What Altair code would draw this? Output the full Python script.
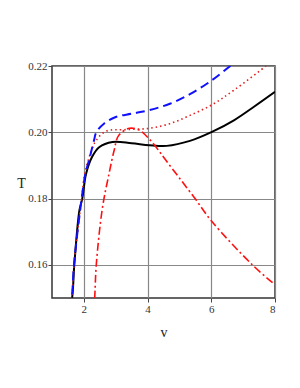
import altair as alt
import pandas as pd

# black solid
v_black = [1.55, 1.63, 1.70, 1.86, 1.95, 2.07, 2.26, 2.48, 2.9, 3.5, 4.06, 4.6, 5.33, 6.02, 6.71, 7.34, 8.0]
T_black = [0.147, 0.150, 0.160, 0.1764, 0.180, 0.1875, 0.1926, 0.1955, 0.1971, 0.1967, 0.1961, 0.1959, 0.1974, 0.2001, 0.2036, 0.2077, 0.2122]

# blue dashed
v_blue = [1.55, 1.62, 1.69, 1.93, 2.05, 2.19, 2.32, 2.39, 2.63, 3.0, 3.5, 4.06, 4.7, 5.33, 6.02, 6.63, 7.0]
T_blue = [0.147, 0.150, 0.160, 0.180, 0.1875, 0.1926, 0.1976, 0.2000, 0.2026, 0.2046, 0.2056, 0.2067, 0.2086, 0.2115, 0.2157, 0.2203, 0.2232]

# red dotted
v_dot = [1.55, 1.62, 1.69, 1.93, 2.03, 2.26, 2.39, 2.69, 3.32, 4.06, 4.7, 5.33, 6.02, 6.71, 7.75, 8.0]
T_dot = [0.147, 0.150, 0.160, 0.180, 0.1875, 0.1951, 0.1976, 0.2003, 0.2008, 0.2012, 0.2026, 0.2051, 0.2083, 0.2127, 0.2203, 0.2225]

# red dash-dot
v_dd = [2.3, 2.34, 2.39, 2.58, 2.79, 2.95, 3.09, 3.43, 3.75, 4.06, 4.38, 4.54, 5.0, 5.49, 6.0, 7.29, 8.0]
T_dd = [0.145, 0.150, 0.160, 0.177, 0.1875, 0.1945, 0.1990, 0.2012, 0.2006, 0.1979, 0.1941, 0.1920, 0.1862, 0.1800, 0.1733, 0.1600, 0.1540]

x_ticks = [2, 4, 6, 8]
y_ticks = [0.16, 0.18, 0.20, 0.22]

xs = alt.Scale(domain=[1, 8], nice=False, zero=False)
ys = alt.Scale(domain=[0.15, 0.22], nice=False, zero=False)

x_axis = alt.Axis(values=x_ticks, format="d", grid=True, titleY=27, titleFontSize=14)
y_axis = alt.Axis(values=y_ticks, format=".2f", grid=True,
                  titleAngle=0, titleX=-31, titleY=117,
                  titleAlign="center", titleBaseline="middle", titleFontSize=14)

def layer(v, T, color, dash, width):
    df = pd.DataFrame({"v": v, "T": T})
    m = dict(color=color, strokeWidth=width, interpolate="catmull-rom", clip=True)
    if dash:
        m["strokeDash"] = dash
    return alt.Chart(df).mark_line(**m).encode(
        x=alt.X("v:Q", scale=xs, title="v", axis=x_axis),
        y=alt.Y("T:Q", scale=ys, title="T", axis=y_axis),
    )

chart = alt.layer(
    layer(v_black, T_black, "black", None, 2),
    layer(v_dot, T_dot, "#e02020", [1.5, 3], 1.6),
    layer(v_dd, T_dd, "#ff1010", [8, 3, 2, 3], 1.6),
    layer(v_blue, T_blue, "#1010ff", [9, 5], 2),
).properties(
    width=223, height=232,
    autosize=alt.AutoSizeParams(type="none"),
    padding={"left": 44, "top": 58, "right": 17, "bottom": 50},
).configure_view(
    stroke="#333", strokeWidth=1.5
).configure_axis(
    labelFont="Liberation Serif", titleFont="Liberation Serif",
    labelFontSize=11, labelColor="#333", titleColor="#222",
    titleFontWeight="normal", domain=False,
    tickColor="#444", tickSize=4, gridColor="#888", gridWidth=1.2,
    labelPadding=1,
)

chart.save("out.html", embed_options={"renderer": "svg", "actions": False})
